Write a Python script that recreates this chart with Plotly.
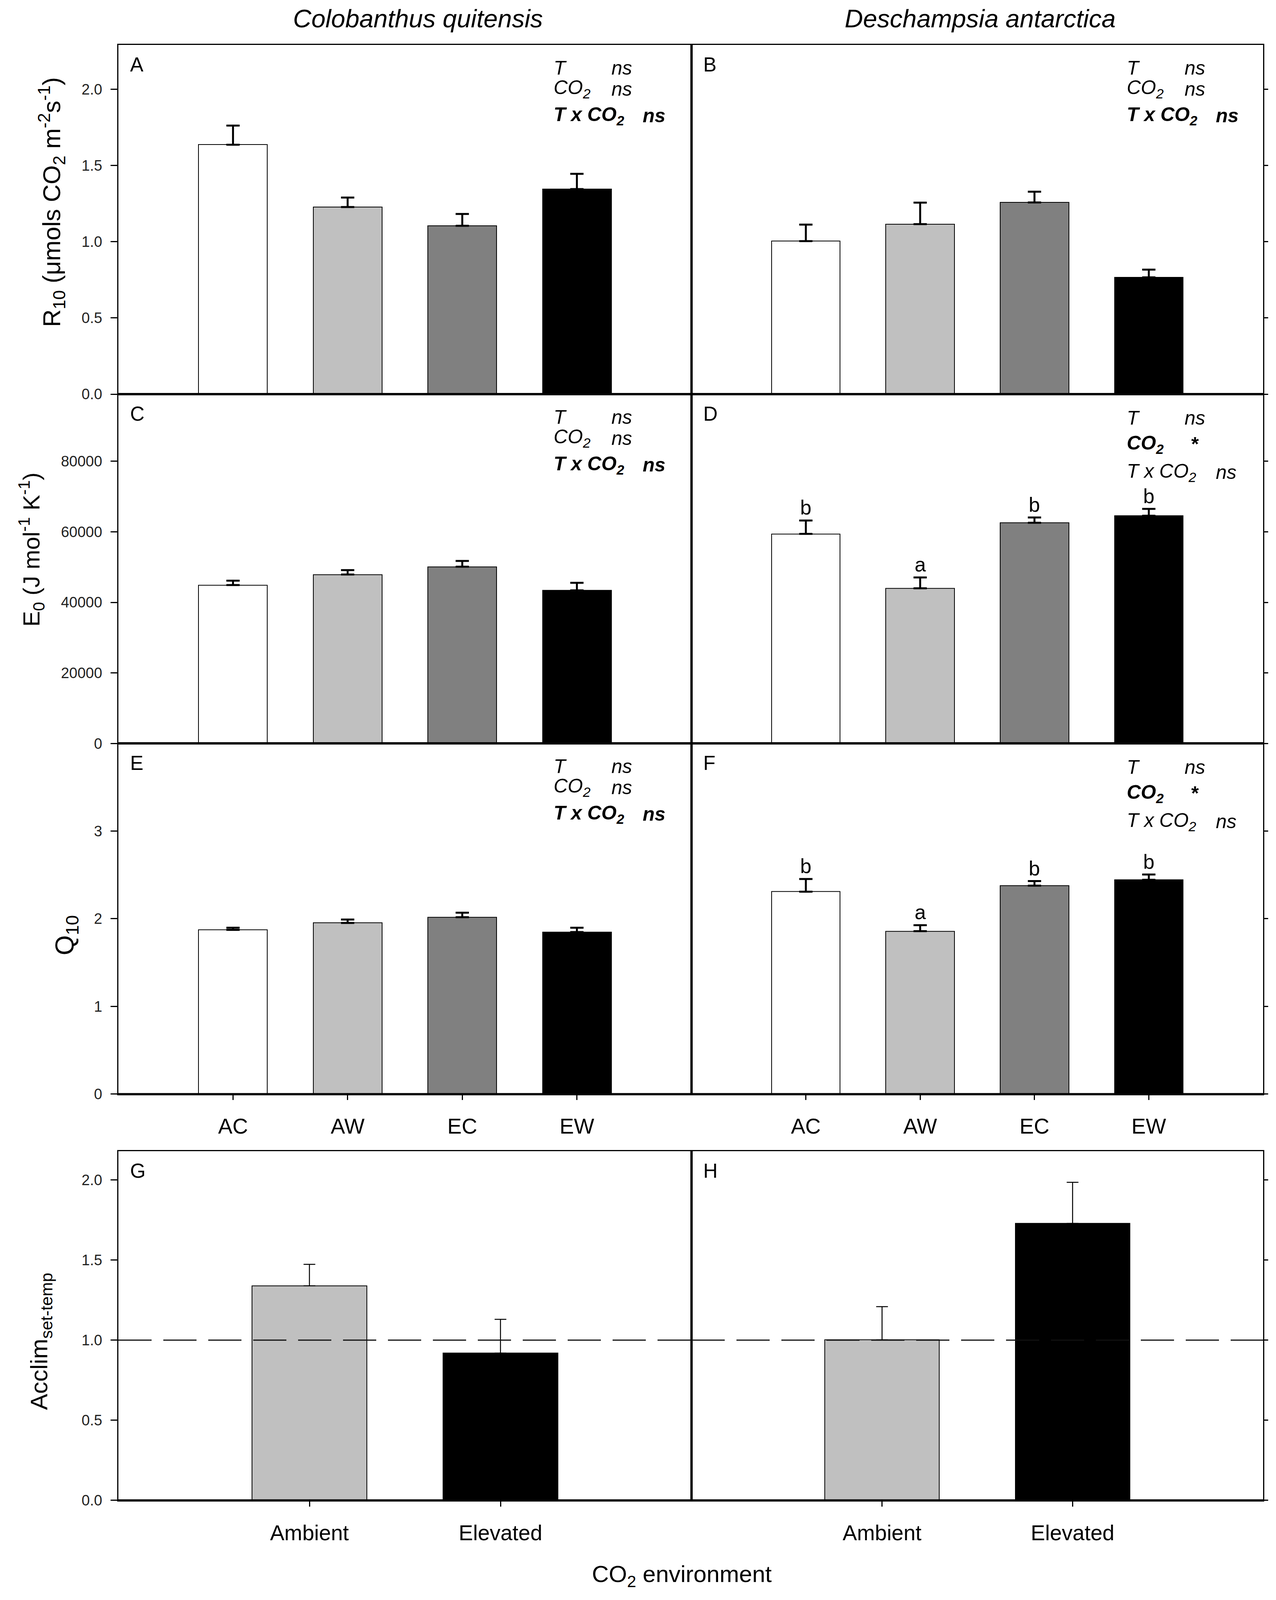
import plotly.graph_objects as go

# reference picture size in px (positions below are given in these px)
W, H = 3266, 4995

# ---- values ----
treatments = ["AC", "AW", "EC", "EW"]
co2_levels = ["Ambient", "Elevated"]
treat_colors = ["#ffffff", "#c0c0c0", "#808080", "#000000"]
co2_colors = ["#c0c0c0", "#000000"]

# R10 (umols CO2 m-2 s-1), panels A and B
r10_colobanthus = [1.636, 1.227, 1.104, 1.345]
r10_colobanthus_se = [0.125, 0.062, 0.078, 0.100]
r10_deschampsia = [1.004, 1.115, 1.257, 0.766]
r10_deschampsia_se = [0.108, 0.141, 0.071, 0.051]

# E0 (J mol-1 K-1), panels C and D
e0_colobanthus = [44900, 47900, 50100, 43400]
e0_colobanthus_se = [1250, 1250, 1650, 2150]
e0_deschampsia = [59400, 44000, 62550, 64550]
e0_deschampsia_se = [3800, 3050, 1520, 1940]

# Q10, panels E and F
q10_colobanthus = [1.873, 1.952, 2.018, 1.849]
q10_colobanthus_se = [0.024, 0.039, 0.051, 0.048]
q10_deschampsia = [2.309, 1.858, 2.378, 2.445]
q10_deschampsia_se = [0.145, 0.069, 0.052, 0.060]

# Acclim set-temp, panels G and H
acclim_colobanthus = [1.339, 0.919]
acclim_colobanthus_se = [0.134, 0.211]
acclim_deschampsia = [1.002, 1.728]
acclim_deschampsia_se = [0.207, 0.257]
acclim_ref = 1.0

# y tick values per measure
r10_ticks = [0, 0.5, 1.0, 1.5, 2.0]
e0_ticks = [0, 20000, 40000, 60000, 80000]
q10_ticks = [0, 1, 2, 3]
acclim_ticks = [0, 0.5, 1.0, 1.5, 2.0]

# post-hoc letters (Deschampsia, D and F)
letters_deschampsia = ["b", "a", "b", "b"]

# ANOVA text: (term, result, bold?)
stats_ns = [("T", "ns", False), ("CO<sub>2</sub>", "ns", False), ("T x CO<sub>2</sub>", "ns", True)]
stats_co2 = [("T", "ns", False), ("CO<sub>2</sub>", "*", True), ("T x CO<sub>2</sub>", "ns", False)]

species = ["Colobanthus quitensis", "Deschampsia antarctica"]

# ---- layout geometry (px of the reference) ----
cols = [(303, 1770), (1770, 3233)]
rows = [(141, 1237), (1237, 2333), (2333, 3433), (3612, 4708)]
FONT = "Liberation Sans, Arial, sans-serif"


def px(x):
    return x / W


def py(y):
    return 1 - y / H


panels = [
    dict(tag="A", cats=treatments, y=r10_colobanthus, se=r10_colobanthus_se, rng=[0, 2.29], ticks=r10_ticks, fmt=".1f", stats=stats_ns, letters=None),
    dict(tag="B", cats=treatments, y=r10_deschampsia, se=r10_deschampsia_se, rng=[0, 2.29], ticks=r10_ticks, fmt=".1f", stats=stats_ns, letters=None),
    dict(tag="C", cats=treatments, y=e0_colobanthus, se=e0_colobanthus_se, rng=[0, 99000], ticks=e0_ticks, fmt="d", stats=stats_ns, letters=None),
    dict(tag="D", cats=treatments, y=e0_deschampsia, se=e0_deschampsia_se, rng=[0, 99000], ticks=e0_ticks, fmt="d", stats=stats_co2, letters=letters_deschampsia),
    dict(tag="E", cats=treatments, y=q10_colobanthus, se=q10_colobanthus_se, rng=[0, 4.0], ticks=q10_ticks, fmt="d", stats=stats_ns, letters=None),
    dict(tag="F", cats=treatments, y=q10_deschampsia, se=q10_deschampsia_se, rng=[0, 4.0], ticks=q10_ticks, fmt="d", stats=stats_co2, letters=letters_deschampsia),
    dict(tag="G", cats=co2_levels, y=acclim_colobanthus, se=acclim_colobanthus_se, rng=[0, 2.18], ticks=acclim_ticks, fmt=".1f", stats=None, letters=None),
    dict(tag="H", cats=co2_levels, y=acclim_deschampsia, se=acclim_deschampsia_se, rng=[0, 2.18], ticks=acclim_ticks, fmt=".1f", stats=None, letters=None),
]

fig = go.Figure()
annotations = []
shapes = []

for i, p in enumerate(panels):
    n = "" if i == 0 else str(i + 1)
    r, c = i // 2, i % 2
    x0, x1 = cols[c]
    y0, y1 = rows[r]
    small = r == 3
    colors = co2_colors if small else treat_colors

    fig.add_trace(go.Bar(
        x=p["cats"], y=p["y"], width=0.6,
        xaxis="x" + n, yaxis="y" + n,
        marker=dict(color=colors, line=dict(color="black", width=2)),
        error_y=dict(type="data", array=p["se"], arrayminus=[0] * len(p["se"]),
                     symmetric=False, color="black",
                     thickness=2.5 if small else 5, width=15 if small else 17),
        showlegend=False,
    ))

    bottom = r >= 2
    fig.layout["xaxis" + n] = dict(
        domain=[px(x0), px(x1)], anchor="y" + n, type="category",
        range=[-1, len(p["cats"])],
        showline=True, mirror=True, linecolor="black", linewidth=2.5,
        showgrid=False, zeroline=False,
        ticks="outside" if bottom else "", ticklen=13, tickwidth=2.5, tickcolor="black",
        showticklabels=bottom, ticklabelstandoff=20,
        tickfont=dict(family=FONT, size=55, color="black"),
    )
    fig.layout["yaxis" + n] = dict(
        domain=[py(y1), py(y0)], anchor="x" + n,
        range=p["rng"], tickmode="array", tickvals=p["ticks"], tickformat=p["fmt"],
        side="left" if c == 0 else "right",
        showline=True, mirror=True, linecolor="black", linewidth=2.5,
        showgrid=False, zeroline=False,
        ticks="outside", ticklen=17 if c == 0 else 10, tickwidth=2.5, tickcolor="black",
        showticklabels=(c == 0), ticklabelstandoff=14,
        tickfont=dict(family=FONT, size=38, color="#222222"),
    )

    # heavier bottom axis line
    shapes.append(dict(type="line", xref="x" + n + " domain", yref="y" + n + " domain",
                       x0=0, x1=1, y0=0, y1=0, line=dict(color="black", width=5)))

    # panel letter
    annotations.append(dict(x=px(x0 + 28), y=py(y0 + 62), xref="paper", yref="paper",
                            text=p["tag"], showarrow=False, xanchor="left", yanchor="middle",
                            font=dict(family=FONT, size=51, color="black")))

    # ANOVA lines
    if p["stats"] is not None:
        dys = [72, 138, 222] if p["stats"] is stats_ns else [75, 157, 245]
        for k, (term, res, bold) in enumerate(p["stats"]):
            t1 = "<i>" + term + "</i>"
            t2 = "<i>" + res + "</i>"
            if bold:
                t1, t2 = "<b>" + t1 + "</b>", "<b>" + t2 + "</b>"
            res_dx = 1340 if k == 2 else (1275 if res == "*" else 1260)
            for dx, txt in [(1112, t1), (res_dx, t2)]:
                annotations.append(dict(x=px(x0 + dx), y=py(y0 + dys[k]), xref="paper", yref="paper",
                                        text=txt, showarrow=False, xanchor="left", yanchor="middle",
                                        font=dict(family=FONT, size=50, color="black")))

    # post-hoc letters
    if p["letters"] is not None:
        for cat, v, e, lt in zip(p["cats"], p["y"], p["se"], p["letters"]):
            annotations.append(dict(x=cat, y=v + e, xref="x" + n, yref="y" + n,
                                    text=lt, showarrow=False, yanchor="bottom", yshift=2,
                                    font=dict(family=FONT, size=52, color="black")))

    # reference line for acclimation panels
    if small:
        shapes.append(dict(type="line", xref="x" + n + " domain", yref="y" + n,
                           x0=0, x1=1, y0=acclim_ref, y1=acclim_ref, layer="above",
                           line=dict(color="#111111", width=3, dash="85px,30px")))

# species titles
for name, xc in zip(species, [1070, 2509]):
    annotations.append(dict(x=px(xc), y=py(58), xref="paper", yref="paper",
                            text="<i>" + name + "</i>", showarrow=False,
                            xanchor="center", yanchor="middle",
                            font=dict(family=FONT, size=65, color="black")))

# y axis titles
ytitles = [
    ("R<sub>10</sub> (μmols CO<sub>2</sub> m<sup>-2</sup>s<sup>-1</sup>)", 132, 634, 63),
    ("E<sub>0</sub> (J mol<sup>-1</sup> K<sup>-1</sup>)", 80, 1725, 60),
    ("Q<sub>10</sub>", 170, 2935, 66),
    ("Acclim<sub>set-temp</sub>", 104, 4210, 62),
]
for txt, xc, yc, fs in ytitles:
    annotations.append(dict(x=px(xc), y=py(yc), xref="paper", yref="paper", text=txt,
                            showarrow=False, textangle=-90, xanchor="center", yanchor="middle",
                            font=dict(family=FONT, size=fs, color="black")))

# x axis title
annotations.append(dict(x=px(1745), y=py(4945), xref="paper", yref="paper",
                        text="CO<sub>2</sub> environment", showarrow=False,
                        xanchor="center", yanchor="middle",
                        font=dict(family=FONT, size=60, color="black")))

fig.update_layout(
    autosize=True,
    margin=dict(l=0, r=0, t=0, b=0, pad=0),
    paper_bgcolor="white", plot_bgcolor="white",
    bargap=0, annotations=annotations, shapes=shapes,
    font=dict(family=FONT, color="black"),
)

fig.write_html("out.html", default_width="100vw", default_height="100vh",
               config=dict(displayModeBar=False),
               post_script="document.body.style.margin='0';")
